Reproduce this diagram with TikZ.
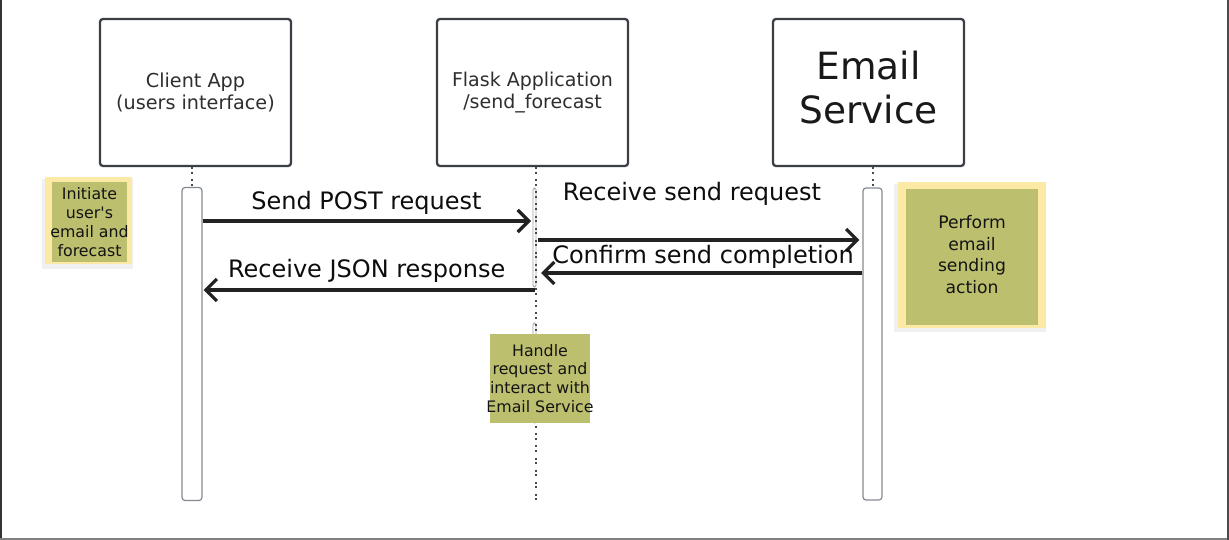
\documentclass[tikz,border=0pt]{standalone}
\usepackage{fontspec}
\setmainfont{DejaVu Sans}
\usetikzlibrary{arrows.meta}
\definecolor{boxline}{HTML}{3A3F45}
\definecolor{olive}{HTML}{BCBF6E}
\definecolor{sticky}{HTML}{FCE9A6}
\definecolor{lifegray}{HTML}{474B52}
\definecolor{bargray}{HTML}{858A91}
\definecolor{msgcol}{HTML}{222222}
\definecolor{txtgray}{HTML}{2E2E2E}
\begin{document}
\begin{tikzpicture}[x=1pt,y=-1pt,
  actor/.style={draw=boxline, line width=2.3pt, rounded corners=3pt, minimum width=191pt,
    minimum height=147pt, inner sep=0pt, align=center, text=txtgray},
  actbar/.style={draw=bargray, line width=1.2pt, fill=white, rounded corners=3pt,
    minimum width=20pt, inner sep=0pt},
  thinbar/.style={draw=bargray!80, line width=0.9pt, rounded corners=1.5pt, minimum width=3pt, inner sep=0pt},
  lifeline/.style={draw=lifegray, line width=2pt, dash pattern=on 2pt off 2.6pt on 2pt off 5.5pt},
  msg/.style={draw=msgcol, line width=3.2pt, -{Straight Barb[length=11pt,width=22pt]}},
  msglabel/.style={font=\fontsize{24}{28}\selectfont, text=black!95, inner sep=0pt, anchor=base},
  olivebox/.style={fill=olive, inner sep=0pt},
  stickybox/.style={fill=sticky, inner sep=0pt},
  notetext/.style={inner sep=0pt, align=center, text=black!92},
  shadowbox/.style={fill=black, opacity=0.06, inner sep=0pt},
]
\useasboundingbox (0,0) rectangle (1229,540);
\fill[white] (0,0) rectangle (1229,540);
% frame
\draw[black!80, line width=2pt] (1,0) -- (1,540);
\draw[black!50, line width=1.6pt] (0,539) -- (1229,539);
\draw[black!70, line width=1.5pt] (1228.2,0) -- (1228.2,540);

% actors
\node[actor, font=\fontsize{19.2}{22}\selectfont] (client) at (195.5,92.5) {Client App\\(users interface)};
\node[actor, font=\fontsize{19}{22.5}\selectfont] (flask) at (532.5,92.5) {Flask Application\\/send\_forecast};
\node[actor, font=\fontsize{37.5}{43.5}\selectfont, text=black!90] (email) at (868.5,92.5) {Email\\Service\rule[-10pt]{0pt}{10pt}};

% activation bars
\node[actbar, minimum height=313pt] (cbar) at (192,344) {};
\node[actbar, minimum width=19pt, minimum height=312pt] (ebar) at (872.5,344) {};
\node[thinbar, minimum height=99pt] (fbar1) at (534.5,237.5) {};
\node[thinbar, minimum height=100pt] (fbar2) at (534.5,373) {};

% lifelines
\coordinate (fend) at (535.5,500);
\draw[lifeline] (cbar.north |- client.south) -- (cbar.north);
\draw[lifeline] (ebar.north |- email.south) -- (ebar.north);
\draw[lifeline] (fend |- flask.south) -- (fend);

% message end points on the Flask lifeline
\coordinate (fa) at (531,221);
\coordinate (fb) at (535,290);
\coordinate (fc) at (538,240);
\coordinate (fd) at (541,273);

% messages
\draw[msg] (cbar.east |- fa) -- (fa);
\draw[msg] (fb) -- ([xshift=1pt]cbar.east |- fb);
\draw[msg] (fc) -- ([xshift=-3pt]ebar.west |- fc);
\draw[msg] (ebar.west |- fd) -- (fd);

\node[msglabel] (l1) at (366.5,210) {Send POST request};
\node[msglabel] (l2) at (366.7,277) {Receive JSON response};
\node[msglabel] (l3) at (692,201) {Receive send request};
\node[msglabel] (l4) at (703,264) {Confirm send completion};

% note: client
\node[shadowbox, minimum width=91pt, minimum height=90pt] (n1s) at (87.5,224) {};
\node[stickybox, minimum width=87pt, minimum height=87pt] (n1o) at (88.5,220.5) {};
\node[olivebox, minimum width=75pt, minimum height=80pt] (n1) at (89.5,222) {};
\node[notetext, font=\fontsize{15.8}{19}\selectfont] (n1t) at (n1.center) {Initiate\\user\textquotesingle s\\email and\\forecast};

% note: flask
\node[olivebox, minimum width=100pt, minimum height=89pt] (n2) at (540,378.5) {};
\node[notetext, font=\fontsize{15.8}{18.9}\selectfont] (n2t) at (n2.center) {Handle\\request and\\interact with\\Email Service};

% note: email
\node[shadowbox, minimum width=152pt, minimum height=148pt] (n3s) at (970,258) {};
\node[stickybox, minimum width=148pt, minimum height=146pt] (n3o) at (972,255) {};
\node[olivebox, minimum width=132pt, minimum height=136pt] (n3) at (972,257) {};
\node[notetext, font=\fontsize{17.2}{21.7}\selectfont, yshift=2.5pt] (n3t) at (n3.center) {Perform\\email\\sending\\action};
\end{tikzpicture}
\end{document}
